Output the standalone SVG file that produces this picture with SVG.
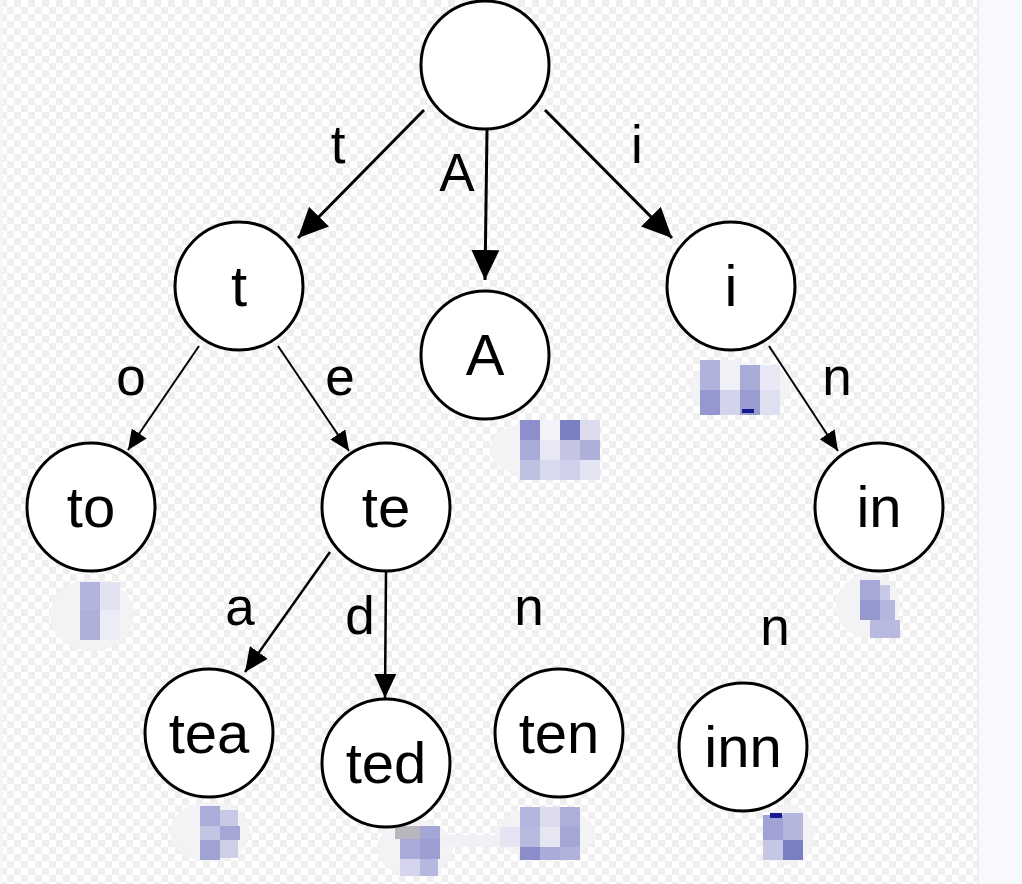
<svg xmlns="http://www.w3.org/2000/svg" width="1022" height="884" viewBox="0 0 1022 884">
<defs>
<pattern id="chk" width="14" height="14" patternUnits="userSpaceOnUse">
<rect width="14" height="14" fill="#ffffff"/>
<rect width="7" height="7" fill="#efefef"/>
<rect x="7" y="7" width="7" height="7" fill="#efefef"/>
</pattern>
<marker id="big" markerUnits="userSpaceOnUse" markerWidth="30" markerHeight="28" refX="30" refY="14" orient="auto" viewBox="0 0 30 28">
<path d="M0,0 L30,14 L0,28 z" fill="#000"/>
</marker>
<marker id="mid" markerUnits="userSpaceOnUse" markerWidth="24" markerHeight="22" refX="24" refY="11" orient="auto" viewBox="0 0 24 22">
<path d="M0,0 L24,11 L0,22 z" fill="#000"/>
</marker>
<marker id="small" markerUnits="userSpaceOnUse" markerWidth="20" markerHeight="18" refX="20" refY="9" orient="auto" viewBox="0 0 20 18">
<path d="M0,0 L20,9 L0,18 z" fill="#000"/>
</marker>
</defs>
<style>
.node circle{fill:#fff;stroke:#000;stroke-width:3}
.node text{font-family:"Liberation Sans",Arial,sans-serif;font-size:58px;text-anchor:middle;fill:#000}
.lbl{font-family:"Liberation Sans",Arial,sans-serif;font-size:53px;text-anchor:middle;fill:#000}
.e{stroke:#000;fill:none}
.halo{fill:#f3f3f6}
</style>
<rect width="1022" height="884" fill="#f5f6fb"/>
<rect x="3" y="0" width="974" height="884" fill="url(#chk)"/>
<rect x="977" y="0" width="2" height="884" fill="#eceef4"/>
<rect x="979" y="0" width="43" height="884" fill="#f8f9fd"/>

<g id="blobs">
<g id="blob-A">
<ellipse class="halo" cx="545" cy="450" rx="55" ry="30"/>
<rect x="520" y="420" width="20" height="20" fill="#8c8fcb"/>
<rect x="540" y="420" width="20" height="20" fill="#f2f2f8"/>
<rect x="560" y="420" width="20" height="20" fill="#7a7ec2"/>
<rect x="580" y="420" width="20" height="20" fill="#dcdcee"/>
<rect x="520" y="440" width="20" height="20" fill="#a9abd8"/>
<rect x="540" y="440" width="20" height="20" fill="#e8e8f4"/>
<rect x="560" y="440" width="20" height="20" fill="#c4c5e3"/>
<rect x="580" y="440" width="20" height="20" fill="#aeb0da"/>
<rect x="520" y="460" width="20" height="20" fill="#bfc1e3"/>
<rect x="540" y="460" width="20" height="20" fill="#d8d8ee"/>
<rect x="560" y="460" width="20" height="20" fill="#cfd0ea"/>
<rect x="580" y="460" width="20" height="20" fill="#e4e4f2"/>
</g>
<g id="blob-i">
<ellipse class="halo" cx="740" cy="388" rx="50" ry="26"/>
<rect x="700" y="360" width="20" height="30" fill="#b0b2dc"/>
<rect x="720" y="360" width="20" height="30" fill="#f0f0f7"/>
<rect x="740" y="365" width="20" height="25" fill="#a8aad8"/>
<rect x="760" y="365" width="20" height="25" fill="#e8e8f4"/>
<rect x="700" y="390" width="20" height="25" fill="#9597cf"/>
<rect x="720" y="390" width="20" height="25" fill="#d2d3ec"/>
<rect x="740" y="390" width="20" height="25" fill="#9a9cd1"/>
<rect x="760" y="390" width="20" height="25" fill="#dedff0"/>
<rect x="742" y="409" width="12" height="4" fill="#1a1a90"/>
</g>
<g id="blob-to">
<ellipse class="halo" cx="92" cy="615" rx="42" ry="36"/>
<rect x="80" y="582" width="20" height="28" fill="#b2b4dd"/>
<rect x="100" y="582" width="20" height="28" fill="#e2e2f2"/>
<rect x="80" y="610" width="20" height="30" fill="#aeb0db"/>
<rect x="100" y="610" width="20" height="30" fill="#ececf6"/>
</g>
<g id="blob-in">
<ellipse class="halo" cx="868" cy="606" rx="32" ry="32"/>
<rect x="860" y="580" width="20" height="20" fill="#a6a8d7"/>
<rect x="880" y="585" width="10" height="15" fill="#c8c9e6"/>
<rect x="860" y="600" width="20" height="20" fill="#9597cf"/>
<rect x="880" y="600" width="15" height="20" fill="#b4b6dd"/>
<rect x="870" y="620" width="30" height="18" fill="#b8b9de"/>
</g>
<g id="blob-tea">
<ellipse class="halo" cx="210" cy="832" rx="40" ry="30"/>
<rect x="200" y="806" width="20" height="20" fill="#aaacd9"/>
<rect x="220" y="810" width="18" height="16" fill="#c8c9e6"/>
<rect x="200" y="826" width="20" height="14" fill="#c4c5e4"/>
<rect x="220" y="826" width="20" height="14" fill="#a4a6d6"/>
<rect x="200" y="840" width="20" height="20" fill="#a0a2d4"/>
<rect x="220" y="840" width="18" height="18" fill="#cdcee8"/>
</g>
<g id="blob-ted">
<ellipse class="halo" cx="415" cy="848" rx="38" ry="28"/>
<rect x="395" y="826" width="25" height="13" fill="#b7b7bd"/>
<rect x="420" y="826" width="20" height="13" fill="#a4a6d6"/>
<rect x="400" y="839" width="20" height="20" fill="#a8aad8"/>
<rect x="420" y="839" width="20" height="20" fill="#9c9ed2"/>
<rect x="400" y="859" width="20" height="17" fill="#d4d5ec"/>
<rect x="420" y="859" width="18" height="17" fill="#b6b8df"/>
</g>
<g id="blob-ten">
<ellipse class="halo" cx="545" cy="833" rx="50" ry="26"/>
<rect x="440" y="835" width="80" height="12" fill="#f1f1f5"/>
<rect x="520" y="807" width="20" height="20" fill="#b4b6de"/>
<rect x="540" y="807" width="20" height="20" fill="#dcdcee"/>
<rect x="560" y="807" width="20" height="20" fill="#adafda"/>
<rect x="500" y="827" width="20" height="20" fill="#e4e4f2"/>
<rect x="520" y="827" width="20" height="20" fill="#b8badf"/>
<rect x="540" y="827" width="20" height="20" fill="#e6e6f2"/>
<rect x="560" y="827" width="20" height="20" fill="#a4a6d6"/>
<rect x="520" y="847" width="20" height="13" fill="#8a8dc9"/>
<rect x="540" y="847" width="20" height="13" fill="#a9abd8"/>
<rect x="560" y="847" width="20" height="13" fill="#b0b2dc"/>
</g>
<g id="blob-inn">
<ellipse class="halo" cx="788" cy="835" rx="26" ry="30"/>
<rect x="763" y="815" width="20" height="25" fill="#a0a2d4"/>
<rect x="783" y="813" width="20" height="27" fill="#b4b6de"/>
<rect x="763" y="840" width="20" height="20" fill="#c6c7e5"/>
<rect x="783" y="840" width="20" height="20" fill="#7a7ec2"/>
<rect x="770" y="813" width="12" height="5" fill="#1a1a90"/>
</g>
</g>

<g id="connectors">
<line class="e" x1="424" y1="110" x2="298" y2="238" stroke-width="3" marker-end="url(#big)"/>
<line class="e" x1="487" y1="130" x2="485" y2="280" stroke-width="3" marker-end="url(#big)"/>
<line class="e" x1="545" y1="110" x2="672" y2="238" stroke-width="3" marker-end="url(#big)"/>
<line class="e" x1="199" y1="346" x2="128" y2="450" stroke-width="2" marker-end="url(#small)"/>
<line class="e" x1="278" y1="346" x2="349" y2="451" stroke-width="2" marker-end="url(#small)"/>
<line class="e" x1="769" y1="346" x2="838" y2="451" stroke-width="2" marker-end="url(#small)"/>
<line class="e" x1="330" y1="552" x2="245" y2="672" stroke-width="2.5" marker-end="url(#mid)"/>
<line class="e" x1="386" y1="571" x2="385" y2="698" stroke-width="2.5" marker-end="url(#mid)"/>
</g>

<g id="edge-labels">
<text class="lbl" x="338" y="163">t</text>
<text class="lbl" x="457" y="191">A</text>
<text class="lbl" x="637" y="163">i</text>
<text class="lbl" x="131" y="395">o</text>
<text class="lbl" x="340" y="395">e</text>
<text class="lbl" x="837" y="395">n</text>
<text class="lbl" x="240" y="625">a</text>
<text class="lbl" x="360" y="634">d</text>
<text class="lbl" x="529" y="625">n</text>
<text class="lbl" x="775" y="645">n</text>
</g>

<g id="root" class="node"><circle cx="485" cy="65" r="64"/></g>
<g id="n-t" class="node"><circle cx="239" cy="286" r="64"/><text x="239" y="306">t</text></g>
<g id="n-A" class="node"><circle cx="485" cy="355" r="64"/><text x="485" y="375">A</text></g>
<g id="n-i" class="node"><circle cx="731" cy="286" r="64"/><text x="731" y="306">i</text></g>
<g id="n-to" class="node"><circle cx="91" cy="507" r="64"/><text x="91" y="527">to</text></g>
<g id="n-te" class="node"><circle cx="386" cy="507" r="64"/><text x="386" y="527">te</text></g>
<g id="n-in" class="node"><circle cx="879" cy="507" r="64"/><text x="879" y="527">in</text></g>
<g id="n-tea" class="node"><circle cx="209" cy="733" r="64"/><text x="209" y="753">tea</text></g>
<g id="n-ted" class="node"><circle cx="386" cy="763" r="64"/><text x="386" y="783">ted</text></g>
<g id="n-ten" class="node"><circle cx="559" cy="733" r="64"/><text x="559" y="753">ten</text></g>
<g id="n-inn" class="node"><circle cx="743" cy="747" r="64"/><text x="743" y="767">inn</text></g>
</svg>
